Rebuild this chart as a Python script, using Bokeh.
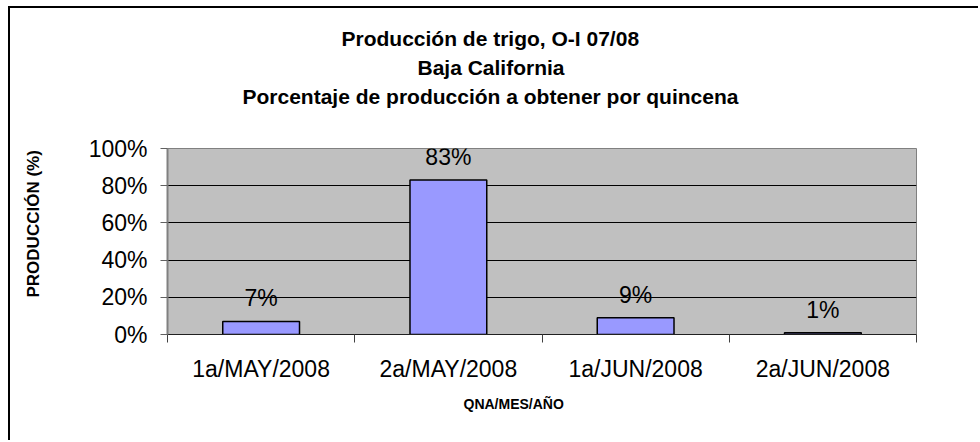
from bokeh.plotting import figure
from bokeh.models import (Range1d, FixedTicker, PrintfTickFormatter, Title,
                          ColumnDataSource, LabelSet, InlineStyleSheet)
from bokeh.core.properties import value
from bokeh.embed import file_html
from bokeh.resources import INLINE

# ---- data ----
categories = ["1a/MAY/2008", "2a/MAY/2008", "1a/JUN/2008", "2a/JUN/2008"]
values = [7, 83, 9, 1]
y_ticks = [0, 20, 40, 60, 80, 100]
title_lines = ["Producción de trigo, O-I 07/08",
               "Baja California",
               "Porcentaje de producción a obtener por quincena"]
y_title = "PRODUCCIÓN (%)"
x_title = "QNA/MES/AÑO"

FONT = "Liberation Sans"
W, H = 978, 440

xs = [i + 0.5 for i in range(len(categories))]
src = ColumnDataSource(dict(x=xs, v=values, lbl=[f"{v}%" for v in values]))

p = figure(width=W, height=H, output_backend="svg", toolbar_location=None,
           x_range=Range1d(0, len(categories)), y_range=Range1d(0, 100),
           min_border_left=167, min_border_right=62,
           min_border_top=148, min_border_bottom=106,
           background_fill_color="#C0C0C0", border_fill_color="white")
p.outline_line_color = "#808080"
p.outline_line_width = 1

# outer chart border: only its top and left edges are in view
p.stylesheets = [InlineStyleSheet(css=(
    ":host { position: relative; } "
    ":host::before { content: ''; position: absolute; left: 8px; top: 6px; "
    "right: 0; bottom: 0; border-top: 2px solid #000000; "
    "border-left: 2px solid #000000; z-index: 100; pointer-events: none; }"))]

p.vbar(x="x", top="v", width=0.41, source=src, fill_color="#9999FF",
       line_color="black", line_width=1.5)

p.add_layout(LabelSet(x="x", y="v", text="lbl", source=src, y_offset=15,
                      text_align="center", text_baseline="alphabetic",
                      text_font=value(FONT), text_font_size="23px",
                      text_color="black"))

# y axis
p.yaxis.ticker = FixedTicker(ticks=y_ticks)
p.yaxis.formatter = PrintfTickFormatter(format="%d%%")
p.yaxis.major_label_text_font = FONT
p.yaxis.major_label_text_font_size = "23px"
p.yaxis.major_label_text_color = "black"
p.yaxis.major_tick_out = 7
p.yaxis.major_tick_in = 0
p.yaxis.minor_tick_out = 0
p.yaxis.minor_tick_in = 0
p.yaxis.major_label_standoff = 13
p.yaxis.axis_line_color = "#808080"
p.yaxis.axis_line_width = 2
p.yaxis.major_tick_line_color = "#606060"

# x axis: labels at category centres, ticks at category boundaries
p.xaxis.ticker = FixedTicker(ticks=xs, minor_ticks=list(range(len(categories) + 1)))
p.xaxis.major_label_overrides = {x: c for x, c in zip(xs, categories)}
p.xaxis.major_label_text_font = FONT
p.xaxis.major_label_text_font_size = "23px"
p.xaxis.major_label_text_color = "black"
p.xaxis.major_tick_out = 0
p.xaxis.major_tick_in = 0
p.xaxis.minor_tick_out = 8
p.xaxis.minor_tick_in = 0
p.xaxis.minor_tick_line_color = "#404040"
p.xaxis.major_label_standoff = 13
p.xaxis.axis_line_color = "#202020"

p.ygrid.ticker = FixedTicker(ticks=y_ticks)
p.ygrid.grid_line_color = "black"
p.xgrid.grid_line_color = None


def title(text, size, standoff, offset=0, align="left"):
    return Title(text=text, align=align, offset=offset, standoff=standoff,
                 text_font=FONT, text_font_size=size, text_font_style="bold",
                 text_color="black")


# chart titles: spacer first (nearest the plot), then lines bottom-up
p.add_layout(title(" ", "21px", 14), "above")
title_offsets = [174, 250, 75]
for t, off in reversed(list(zip(title_lines, title_offsets))):
    p.add_layout(title(t, "21px", 4, off), "above")

# y axis title
p.add_layout(title(" ", "17px", 20), "left")
p.add_layout(title(y_title, "17px", 4, 37), "left")

# x axis title
p.add_layout(title(x_title, "14px", 18, 296), "below")

open("out.html", "w").write(file_html(p, INLINE))
